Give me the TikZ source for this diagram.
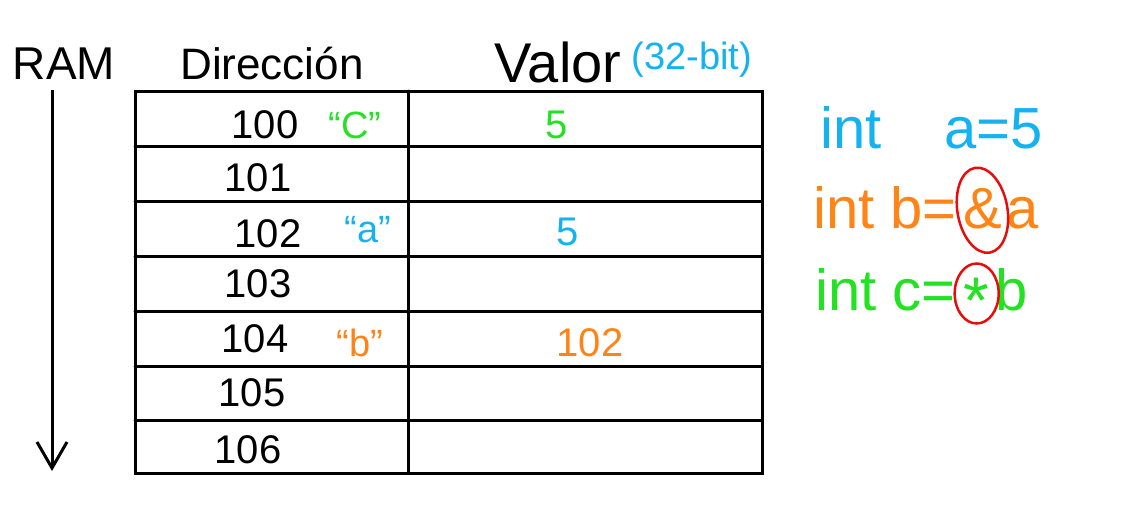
\documentclass[tikz,border=0pt]{standalone}
\usepackage{fontspec}
\setmainfont{Liberation Sans}
\usetikzlibrary{positioning, arrows.meta, shapes.geometric}
\definecolor{penblue}{RGB}{20,178,240}
\definecolor{pengreen}{RGB}{34,226,34}
\definecolor{penorange}{RGB}{255,132,24}
\definecolor{penred}{RGB}{232,12,12}
\tikzset{
  ramtable/.style={line width=3pt, draw=black, line cap=round}, % the table lines
  addr/.style={font=\fontsize{40}{40}\selectfont, inner sep=0pt}, % the addresses
  head/.style={font=\fontsize{44}{44}\selectfont, inner sep=0pt}, % column titles
  varname/.style={font=\fontsize{38}{38}\selectfont, inner sep=0pt}, % "a", "b", "c"
  code/.style={font=\fontsize{58}{58}\selectfont, inner sep=0pt, anchor=base west}, % the C lines
  ring/.style={ellipse, draw=penred, line width=2.5pt, inner sep=0pt}, % red marks
}

\begin{document}
\begin{tikzpicture}[x=1pt, y=-1pt, node distance=54pt]
	\useasboundingbox (0,0) rectangle (1136,509);

	% RAM and its direction
	\node[head, font=\fontsize{46}{46}\selectfont] (ram) at (64,64) {RAM};
	\coordinate (ramtop) at (52,90);
	\coordinate (rambot) at (52,471);
	\draw[line width=3pt, -{Straight Barb[length=26pt, width=30pt, line width=3pt]}] (ramtop) -- (rambot);

	% table
	\draw[ramtable] (135,91) rectangle (762,473);
	\foreach \y in {146,201,256,311,366,420}
		\draw[ramtable] (135,\y) -- (762,\y);
	\draw[ramtable] (408,91) -- (408,473);

	\node[head] (dir) at (272,64) {Dirección};
	\node[head, font=\fontsize{56}{56}\selectfont] (val) at (558,62) {Valor};
	\node[head, font=\fontsize{38}{38}\selectfont, text=penblue, right=10pt of val, yshift=2pt] (bits) {(32-bit)};

	% addresses
	\node[addr] at (265,125) (d100) {100};
	\node[addr, below of=d100, yshift=1pt, xshift=-7pt] (d101) {101};
	\node[addr, below of=d101, yshift=-2pt, xshift=10pt] (d102) {102};
	\node[addr, below of=d102, yshift=4pt, xshift=-10pt] (d103) {103};
	\node[addr, below of=d103, yshift=-1pt, xshift=-3pt] (d104) {104};
	\node[addr, below of=d104, yshift=0pt, xshift=-3pt] (d105) {105};
	\node[addr, below of=d105, yshift=-3pt, xshift=-4pt] (d106) {106};

	% variable names
	\node[varname, text=pengreen] (nc) at (355,125) {``C''};
	\node[varname, text=penblue] (na) at (368,230) {``a''};
	\node[varname, text=penorange] (nb) at (360,343) {``b''};

	% values
	\node[addr, text=pengreen] (v100) at (557,125) {5};
	\node[addr, text=penblue] (v102) at (568,232) {5};
	\node[addr, text=penorange] (v104) at (590,343) {102};

	% the code
	\node[code, text=penblue] (la) at (820,148) {int};
	\node[code, text=penblue] (laval) at (944,148) {a=5};

	\node[code, text=penorange] (lb) at (813,228) {int b=};
	\node[code, text=penorange, right=6pt of lb.base east, anchor=base west] (amp) {\&};
	\node[code, text=penorange, right=4pt of amp.base east, anchor=base west] (lbval) {a};
	\node[ring, minimum width=50pt, minimum height=86pt, rotate=10] (ringamp) at ([yshift=-2pt]amp.center) {};

	\node[code, text=pengreen] (lc) at (815,310) {int c=};
	\node[code, text=pengreen, font=\fontsize{66}{66}\selectfont, right=8pt of lc.base east, anchor=base west] (star) {\raisebox{-0.2em}{*}};
	\node[code, text=pengreen, right=6pt of star.base east, anchor=base west] (lcval) {b};
	\node[ring, minimum width=44pt, minimum height=60pt] (ringstar) at ([yshift=7pt]star.center) {};
\end{tikzpicture}
\end{document}
